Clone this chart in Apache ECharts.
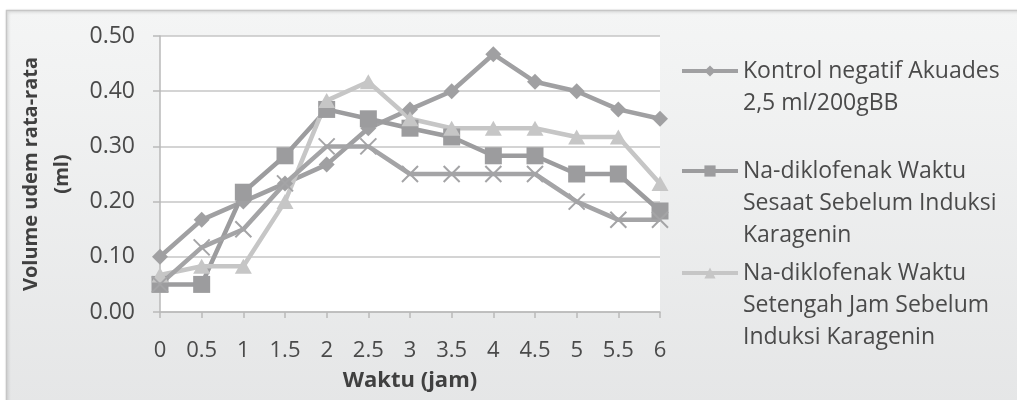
<!DOCTYPE html>
<html>
<head>
<meta charset="utf-8">
<script src="https://cdn.jsdelivr.net/npm/echarts@6/dist/echarts.min.js"></script>
<style>
  html, body { margin: 0; padding: 0; background: #ffffff; }
  #chart { width: 1017px; height: 400px; }
</style>
</head>
<body>
<div id="chart"></div>
<script>
// Time points (hours after carrageenan induction)
const categories = ['0', '0.5', '1', '1.5', '2', '2.5', '3', '3.5', '4', '4.5', '5', '5.5', '6'];

// Mean oedema volume (ml) per group
const kontrolAkuades = [0.100, 0.167, 0.200, 0.233, 0.267, 0.333, 0.367, 0.400, 0.467, 0.417, 0.400, 0.367, 0.350];
const diklofenakSesaat = [0.050, 0.050, 0.217, 0.283, 0.367, 0.350, 0.333, 0.317, 0.283, 0.283, 0.250, 0.250, 0.183];
const diklofenakSetengahJam = [0.067, 0.083, 0.083, 0.200, 0.383, 0.417, 0.350, 0.333, 0.333, 0.333, 0.317, 0.317, 0.233];
const seriKeempat = [0.050, 0.117, 0.150, 0.233, 0.300, 0.300, 0.250, 0.250, 0.250, 0.250, 0.200, 0.167, 0.167];

// Y axis ticks
const yTicks = { min: 0, max: 0.5, interval: 0.1 };

const seriesNames = [
  'Kontrol negatif Akuades\n2,5 ml/200gBB',
  'Na-diklofenak Waktu\nSesaat Sebelum Induksi\nKaragenin',
  'Na-diklofenak Waktu\nSetengah Jam Sebelum\nInduksi Karagenin',
  'Seri 4'
];

const FONT = '"Open Sans", "Noto Sans", sans-serif';
const TEXT_COLOR = '#4a4a4a';
const LINE_H = 32;

// Legend block: blank lines above the name keep its first line level with the icon
function legendBlock(name, iconCenterY) {
  const lines = name.split('\n').length;
  const blockH = LINE_H * (2 * lines - 1);
  return {
    show: true,
    orient: 'vertical',
    left: 680,
    top: iconCenterY - blockH / 2,
    padding: 0,
    itemWidth: 56,
    itemHeight: 14,
    data: [name],
    selectedMode: false,
    lineStyle: { width: 4 },
    formatter: n => '\n'.repeat(lines - 1) + n,
    textStyle: {
      fontFamily: FONT,
      fontSize: 23,
      color: TEXT_COLOR,
      lineHeight: LINE_H
    }
  };
}

const chart = echarts.init(document.getElementById('chart'), null, { renderer: 'canvas' });

const option = {
  backgroundColor: '#ffffff',
  animation: false,
  graphic: [{
    type: 'rect',
    z: -100,
    silent: true,
    shape: { x: 6.5, y: 10.5, width: 1100, height: 500 },
    style: {
      fill: new echarts.graphic.LinearGradient(0, 0, 0, 1, [
        { offset: 0, color: '#f4f5f5' },
        { offset: 1, color: '#e1e2e3' }
      ]),
      stroke: '#c6c6c6',
      lineWidth: 1.5,
      shadowBlur: 3,
      shadowColor: 'rgba(0,0,0,0.18)',
      shadowOffsetX: 1,
      shadowOffsetY: 1
    }
  }],
  grid: {
    left: 160,
    right: 357,
    top: 36,
    bottom: 88,
    show: true,
    backgroundColor: '#ffffff',
    borderWidth: 0
  },
  legend: [
    legendBlock(seriesNames[0], 71),
    legendBlock(seriesNames[1], 171),
    legendBlock(seriesNames[2], 273)
  ],
  xAxis: {
    type: 'category',
    data: categories,
    boundaryGap: false,
    name: 'Waktu (jam)',
    nameLocation: 'middle',
    nameGap: 58,
    nameTextStyle: { fontFamily: FONT, fontSize: 22, fontWeight: 'bold', color: '#404040' },
    axisLine: { show: true, lineStyle: { color: '#b9b9b9', width: 1.5 } },
    axisTick: { show: true, alignWithLabel: true, interval: 0, length: 6, lineStyle: { color: '#b9b9b9', width: 1.5 } },
    axisLabel: { fontFamily: FONT, fontSize: 22, color: TEXT_COLOR, margin: 28, interval: 0, hideOverlap: false },
    splitLine: { show: false }
  },
  yAxis: {
    type: 'value',
    min: yTicks.min,
    max: yTicks.max,
    interval: yTicks.interval,
    name: 'Volume udem rata-rata\n(ml)',
    nameLocation: 'middle',
    nameGap: 82,
    nameTextStyle: { fontFamily: FONT, fontSize: 20, fontWeight: 'bold', color: '#404040', lineHeight: 31 },
    axisLine: { show: true, lineStyle: { color: '#b9b9b9', width: 1.5 } },
    axisTick: { show: true, length: 7, lineStyle: { color: '#b9b9b9', width: 1.5 } },
    axisLabel: {
      fontFamily: FONT, fontSize: 23, color: TEXT_COLOR, margin: 25,
      formatter: v => v.toFixed(2)
    },
    splitLine: { show: true, lineStyle: { color: '#c6c6c6', width: 1.5 } }
  },
  series: [
    {
      name: seriesNames[0], type: 'line', data: kontrolAkuades,
      symbol: 'diamond', symbolSize: [16, 16],
      lineStyle: { color: '#a0a0a2', width: 4.5 },
      itemStyle: { color: '#a0a0a2' }
    },
    {
      name: seriesNames[1], type: 'line', data: diklofenakSesaat,
      symbol: 'rect', symbolSize: [17, 17],
      lineStyle: { color: '#9c9c9e', width: 4.5 },
      itemStyle: { color: '#9c9c9e' }
    },
    {
      name: seriesNames[2], type: 'line', data: diklofenakSetengahJam,
      symbol: 'triangle', symbolSize: [17, 15],
      lineStyle: { color: '#c6c6c6', width: 4.5 },
      itemStyle: { color: '#c6c6c6' }
    },
    {
      name: seriesNames[3], type: 'line', data: seriKeempat,
      symbol: 'path://M0,0L10,10M10,0L0,10', symbolSize: [16, 16],
      lineStyle: { color: '#a4a4a6', width: 4.5 },
      itemStyle: { color: 'none', borderColor: '#a4a4a6', borderWidth: 2 }
    }
  ]
};

chart.setOption(option);
</script>
</body>
</html>
